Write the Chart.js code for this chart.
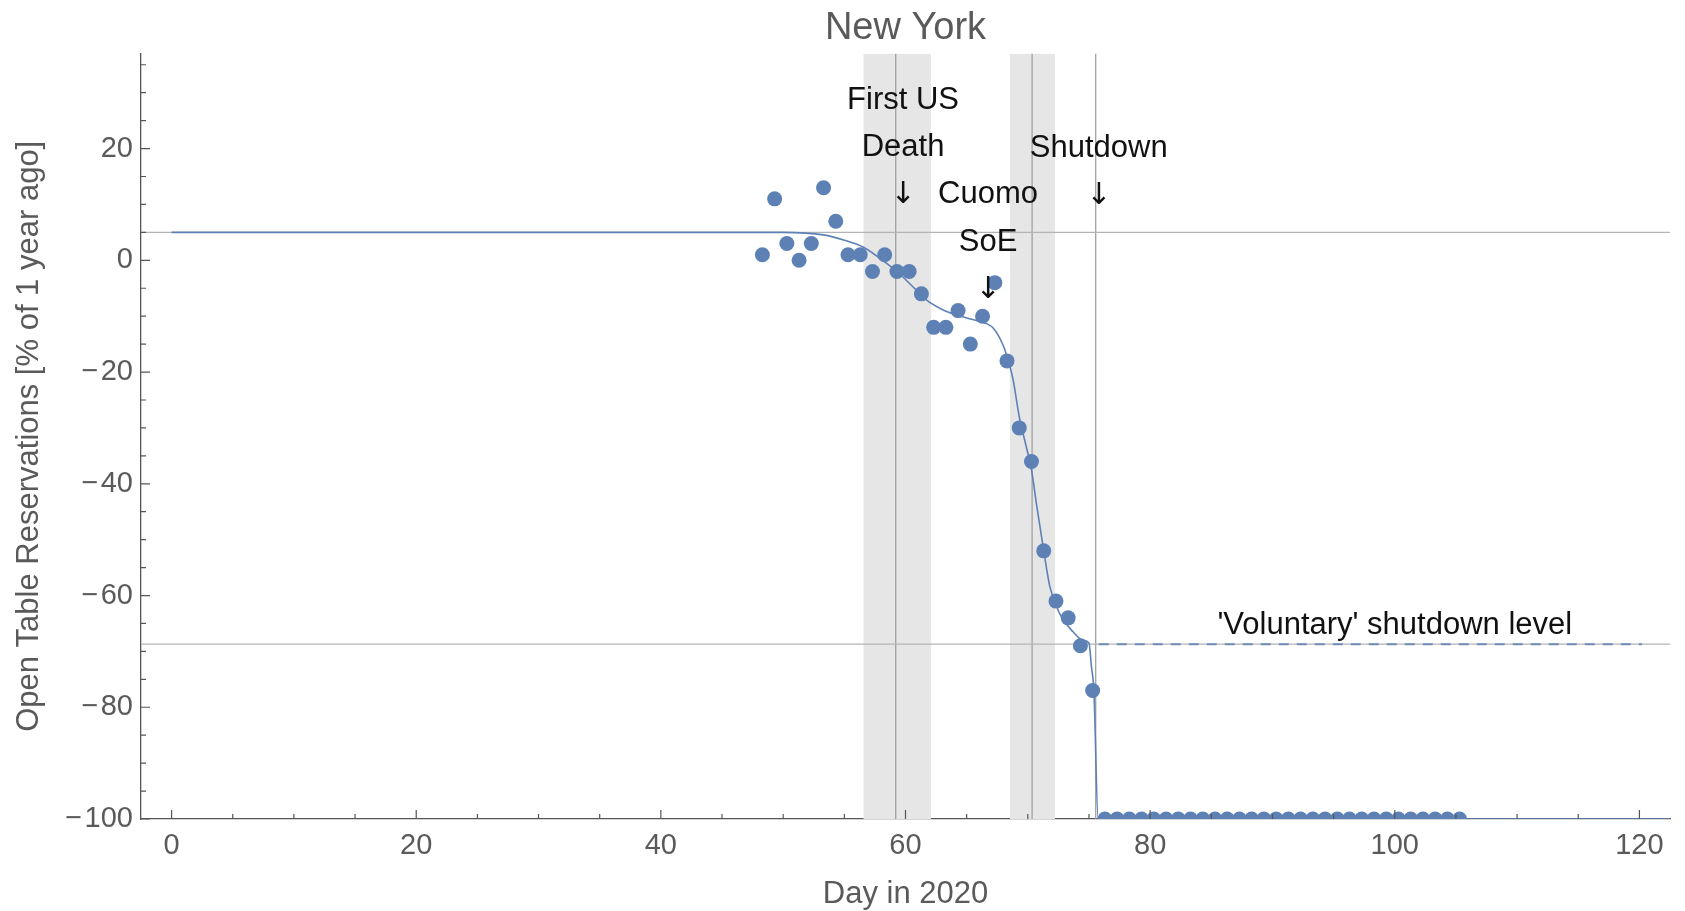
<!DOCTYPE html>
<html>
<head>
<meta charset="utf-8">
<title>New York</title>
<script src="https://cdn.jsdelivr.net/npm/chart.js@4"></script>
<style>
  html, body { margin: 0; padding: 0; background: #fff; }
  canvas { display: block; }
</style>
</head>
<body>
<canvas id="chart" width="1685" height="911"></canvas>
<script>
// OpenTable reservations in New York, % change vs. the same day a year ago
var obsDays = [48.3, 49.3, 50.3, 51.3, 52.3, 53.3, 54.3, 55.3, 56.3, 57.3,
    58.3, 59.3, 60.3, 61.3, 62.3, 63.3, 64.3, 65.3, 66.3, 67.3,
    68.3, 69.3, 70.3, 71.3, 72.3, 73.3, 74.3, 75.3, 76.3, 77.3,
    78.3, 79.3, 80.3, 81.3, 82.3, 83.3, 84.3, 85.3, 86.3, 87.3,
    88.3, 89.3, 90.3, 91.3, 92.3, 93.3, 94.3, 95.3, 96.3, 97.3,
    98.3, 99.3, 100.3, 101.3, 102.3, 103.3, 104.3, 105.3];
var obsValues = [1, 11, 3, 0, 3, 13, 7, 1, 1, -2,
    1, -2, -2, -6, -12, -12, -9, -15, -10, -4,
    -18, -30, -36, -52, -61, -64, -69, -77, -100, -100,
    -100, -100, -100, -100, -100, -100, -100, -100, -100, -100,
    -100, -100, -100, -100, -100, -100, -100, -100, -100, -100,
    -100, -100, -100, -100, -100, -100, -100, -100];

// fitted curve
var fitDays = [0, 46, 50, 53.3, 55, 56.6, 58, 59.3, 60.5, 61.7, 63, 64.2, 65.5, 66.6,
    67.2, 67.9, 68.3, 68.8, 69.3, 69.8, 70.3, 70.7, 71.3, 71.8, 72.6, 73.7,
    74.5, 75, 75.2, 75.4, 75.75, 122.5];
var fitValues = [5, 5, 5, 4.55, 3.6, 2.3, 0.2, -2, -4.5, -7.1, -8.8, -9.8, -10.6, -11.3,
    -12.2, -14.8, -17.2, -21.4, -28, -32.7, -37.5, -43.5, -52, -58.4, -63.2, -66.5,
    -68, -68.5, -72.7, -77, -100, -100];

var refLevels = [5, -68.7];          // grey horizontal guides
var voluntaryDays = [75.8, 120.2];   // dashed 'voluntary' level
var voluntaryLevel = -68.7;
var markerDays = [59.2, 70.35, 75.55];
var bands = [[56.55, 62.08], [68.54, 72.22]];

var eventDays = [59.8, 66.75, 75.8];
var eventTops = [28.7, 11.7, 20];
var eventLines = [['First US', 'Death', '\u2193'], ['Cuomo', 'SoE', '\u2193'], ['Shutdown', '\u2193']];
var levelLabel = "'Voluntary' shutdown level";
var levelLabelAt = {x: 100, y: -65.4};

var xTicks = [0, 20, 40, 60, 80, 100, 120];
var yTicks = [-100, -80, -60, -40, -20, 0, 20];

var xMin = -2.5, xMax = 122.5, yMin = -100, yMax = 37;
var blue = 'rgb(94,129,181)';
var FONT = '"Liberation Sans", Arial, sans-serif';

Chart.defaults.font.family = FONT;

function pts(xs, ys) {
    return xs.map(function(x, i) { return {x: x, y: ys[i]}; });
}

var datasets = [];
datasets.push({
    data: pts(obsDays, obsValues),
    showLine: false,
    pointRadius: 7.5,
    pointBackgroundColor: blue,
    pointBorderWidth: 0,
    clip: 0,
    order: 0
});
datasets.push({
    data: pts(fitDays, fitValues),
    borderColor: blue,
    borderWidth: 1.6,
    pointRadius: 0,
    cubicInterpolationMode: 'monotone',
    order: 1
});
datasets.push({
    data: pts(voluntaryDays, [voluntaryLevel, voluntaryLevel]),
    borderColor: 'rgba(94,129,181,0.85)',
    borderWidth: 2,
    borderDash: [10, 8],
    pointRadius: 0,
    order: 2
});
refLevels.forEach(function(v) {
    datasets.push({
        data: pts([xMin, xMax], [v, v]),
        borderColor: '#b4b4b4',
        borderWidth: 1.2,
        pointRadius: 0,
        order: 3
    });
});
markerDays.forEach(function(d) {
    datasets.push({
        data: pts([d, d], [yMin, yMax]),
        borderColor: '#a0a0a0',
        borderWidth: 1.3,
        pointRadius: 0,
        order: 4
    });
});
bands.forEach(function(b) {
    datasets.push({
        data: pts(b, [yMax, yMax]),
        borderWidth: 0,
        borderColor: 'rgba(0,0,0,0)',
        backgroundColor: '#e6e6e6',
        fill: 'start',
        pointRadius: 0,
        order: 5
    });
});

function fmt(v) {
    return v < 0 ? '\u2212\u200a' + Math.abs(v) : String(v);
}

// Mathematica-style ticks pointing into the frame
var innerTicks = {
    id: 'innerTicks',
    afterDatasetsDraw: function(chart) {
        var ctx = chart.ctx, a = chart.chartArea;
        var x = chart.scales.x, y = chart.scales.y;
        ctx.save();
        ctx.strokeStyle = '#555';
        ctx.lineWidth = 1.2;
        ctx.beginPath();
        for (var v = Math.ceil(x.min / 5) * 5; v <= x.max; v += 5) {
            var px = x.getPixelForValue(v);
            ctx.moveTo(px, a.bottom);
            ctx.lineTo(px, a.bottom - (v % 20 === 0 ? 9 : 5));
        }
        for (var w = Math.ceil(y.min / 5) * 5; w <= y.max; w += 5) {
            var py = y.getPixelForValue(w);
            ctx.moveTo(a.left, py);
            ctx.lineTo(a.left + (w % 20 === 0 ? 9 : 5), py);
        }
        ctx.stroke();
        ctx.restore();
    }
};

var notes = {
    id: 'notes',
    afterDatasetsDraw: function(chart) {
        var ctx = chart.ctx;
        var x = chart.scales.x, y = chart.scales.y;
        ctx.save();
        ctx.fillStyle = '#111';
        ctx.textAlign = 'center';
        ctx.textBaseline = 'middle';
        eventDays.forEach(function(d, i) {
            eventLines[i].forEach(function(t, j) {
                ctx.font = t === '\u2193' ? '30px "DejaVu Sans", sans-serif' : '31px ' + FONT;
                ctx.fillText(t, x.getPixelForValue(d), y.getPixelForValue(eventTops[i] - j * 8.5));
            });
        });
        ctx.font = '31px ' + FONT;
        ctx.fillText(levelLabel, x.getPixelForValue(levelLabelAt.x), y.getPixelForValue(levelLabelAt.y));
        ctx.restore();
    }
};

new Chart(document.getElementById('chart').getContext('2d'), {
    type: 'line',
    data: {datasets: datasets},
    plugins: [innerTicks, notes],
    options: {
        responsive: false,
        animation: false,
        events: [],
        layout: {padding: {left: 0, right: 15, top: 0, bottom: 0}},
        plugins: {
            legend: {display: false},
            tooltip: {enabled: false},
            title: {
                display: true,
                text: 'New York',
                fullSize: false,
                color: '#5a5a5a',
                font: {size: 38, weight: 'normal'},
                padding: {top: 6, bottom: 2}
            }
        },
        scales: {
            x: {
                type: 'linear',
                min: xMin,
                max: xMax,
                afterBuildTicks: function(s) { s.ticks = xTicks.map(function(v) { return {value: v}; }); },
                afterFit: function(s) { s.height = 92; },
                grid: {display: false, drawTicks: false},
                border: {display: true, color: '#555', width: 1.3},
                ticks: {
                    autoSkip: false,
                    maxRotation: 0,
                    padding: 10,
                    color: '#5a5a5a',
                    font: {size: 29},
                    callback: function(v) { return fmt(v); }
                },
                title: {
                    display: true,
                    text: 'Day in 2020',
                    color: '#5a5a5a',
                    font: {size: 31},
                    padding: {top: 0, bottom: -2}
                }
            },
            y: {
                min: yMin,
                max: yMax,
                afterBuildTicks: function(s) { s.ticks = yTicks.map(function(v) { return {value: v}; }); },
                afterFit: function(s) { s.width = 141; },
                grid: {display: false, drawTicks: false},
                border: {display: true, color: '#555', width: 1.3},
                ticks: {
                    autoSkip: false,
                    padding: 8,
                    color: '#5a5a5a',
                    font: {size: 29},
                    callback: function(v) { return fmt(v); }
                },
                title: {
                    display: true,
                    text: 'Open Table Reservations [% of 1 year ago]',
                    color: '#5a5a5a',
                    font: {size: 31},
                    padding: {top: 11, bottom: 0}
                }
            }
        }
    }
});
</script>
</body>
</html>
